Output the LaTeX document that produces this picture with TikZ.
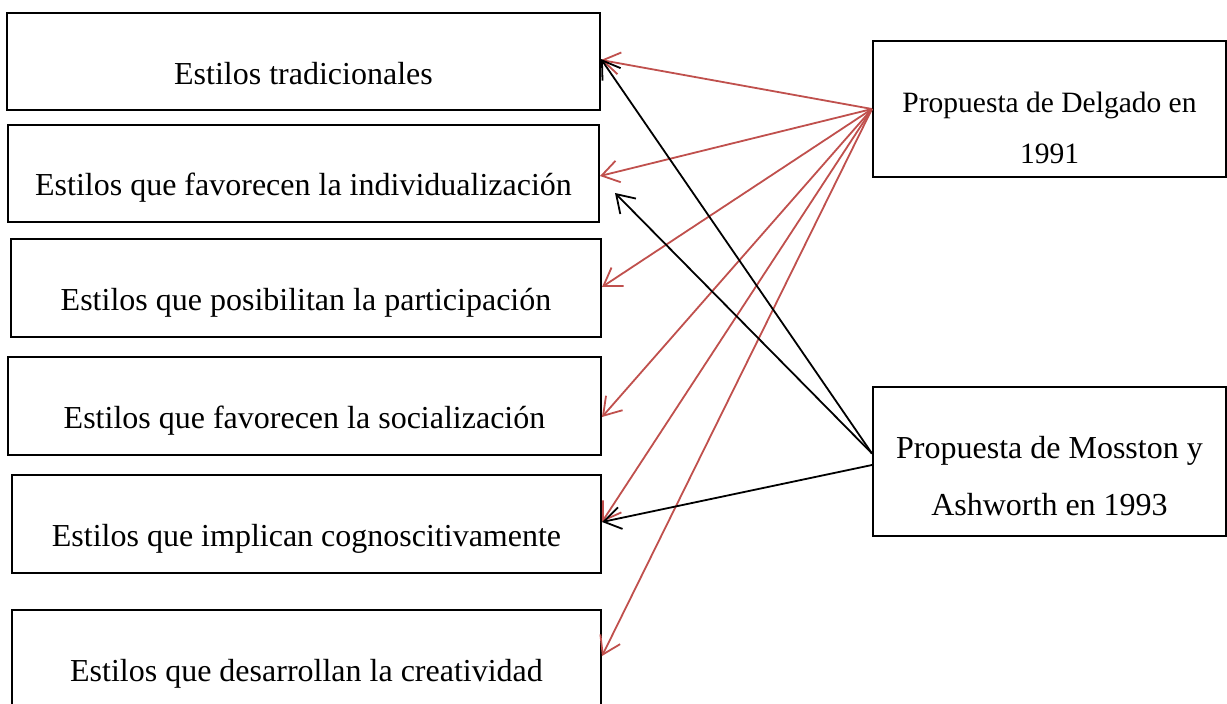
\documentclass[tikz,border=0pt]{standalone}
\usepackage{fontspec}
\setmainfont{Liberation Serif}
\usetikzlibrary{arrows.meta}
\definecolor{arrred}{HTML}{C0504D}
\tikzset{
  box/.style={draw=black, line width=2pt, inner sep=0pt, fill=none},
  lbl/.style={font=\fontsize{32}{38}\selectfont, inner sep=0pt, anchor=base},
  conn/.style={line width=1.8pt, -{Straight Barb[length=17pt,width=22pt]}},
  redconn/.style={conn, draw=arrred},
  blackconn/.style={conn, draw=black}
}
\begin{document}
\begin{tikzpicture}[x=1pt,y=-1pt]
\clip (0,0) rectangle (1227,704);
\fill[white] (0,0) rectangle (1227,704);
% left boxes
\node[box, minimum width=593pt, minimum height=97pt] (b1) at (303.5,61.5) {};
\node[box, minimum width=591pt, minimum height=97pt] (b2) at (303.5,173.5) {};
\node[box, minimum width=590pt, minimum height=98pt] (b3) at (306,288) {};
\node[box, minimum width=593pt, minimum height=98pt] (b4) at (304.5,406) {};
\node[box, minimum width=589pt, minimum height=98pt] (b5) at (306.5,524) {};
\node[box, minimum width=589pt, minimum height=130pt] (b6) at (306.5,675) {};
% right boxes
\node[box, minimum width=353pt, minimum height=136pt] (d) at (1049.5,109) {};
\node[box, minimum width=353pt, minimum height=149pt] (m) at (1049.5,461.5) {};
% texts
\node[lbl] (t1) at (303.5,84) {Estilos tradicionales};
\node[lbl] (t2) at (303.5,195) {Estilos que favorecen la individualización};
\node[lbl] (t3) at (306,310) {Estilos que posibilitan la participación};
\node[lbl] (t4) at (304.5,428) {Estilos que favorecen la socialización};
\node[lbl] (t5) at (306.5,546) {Estilos que implican cognoscitivamente};
\node[lbl] (t6) at (306.5,681) {Estilos que desarrollan la creatividad};
\node[lbl, font=\fontsize{29.5}{35}\selectfont] (d1) at (1049.5,112) {Propuesta de Delgado en};
\node[lbl, font=\fontsize{29.5}{35}\selectfont] (d2) at (1049.5,163) {1991};
\node[lbl] (m1) at (1049.5,458) {Propuesta de Mosston y};
\node[lbl] (m2) at (1049.5,515) {Ashworth en 1993};
% free end
\coordinate (free) at (615,193);
% red connectors
\draw[redconn] (d.west) -- ([yshift=1.5pt]b1.east);
\draw[redconn] (d.west) -- ([yshift=-2.5pt]b2.east);
\draw[redconn] (d.west) -- ([yshift=1pt]b3.east);
\draw[redconn] (d.west) -- ([yshift=-11pt]b4.east);
\draw[redconn] (d.west) -- ([yshift=2pt]b5.east);
\draw[redconn] (d.west) -- ([yshift=19pt]b6.east);
% black connectors
\draw[blackconn] ([yshift=8pt]m.west) -- ([yshift=2.5pt]b1.east);
\draw[blackconn] ([yshift=8pt]m.west) -- (free);
\draw[blackconn] ([yshift=-3.5pt]m.west) -- ([yshift=2pt]b5.east);
\end{tikzpicture}
\end{document}
